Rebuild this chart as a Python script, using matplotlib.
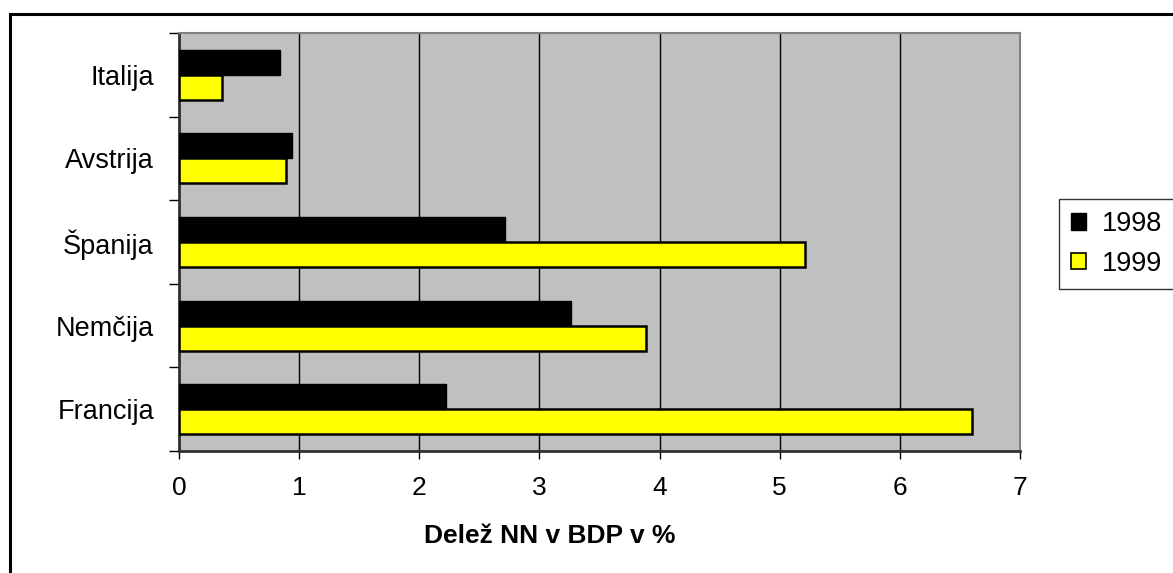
import matplotlib.pyplot as plt
from matplotlib.patches import Rectangle, Patch

plt.rcParams['font.family'] = ['Liberation Sans', 'DejaVu Sans']

drzave = ["Francija", "Nemčija", "Španija", "Avstrija", "Italija"]
delez_1998 = [2.22, 3.26, 2.71, 0.94, 0.84]
delez_1999 = [6.60, 3.89, 5.21, 0.89, 0.36]

fig = plt.figure(figsize=(11.73, 5.73), dpi=100)
ax = fig.add_axes([179 / 1173, 1 - 451 / 573, 841 / 1173, 418 / 573])

# okvir okoli celega grafa (desni in spodnji rob sta izven slike)
fig.patches.append(Rectangle((10 / 1173, -0.05), 1.2, 1 - 13.5 / 573 + 0.05,
                             transform=fig.transFigure, fill=False,
                             edgecolor="black", linewidth=2.2, zorder=10))

y = list(range(len(drzave)))
h = 0.3
ax.barh([v + h / 2 for v in y], delez_1998, height=h, color="black",
        edgecolor="black", linewidth=1, zorder=3, label="1998")
ax.barh([v - h / 2 for v in y], delez_1999, height=h, color="#ffff00",
        edgecolor="black", linewidth=1.8, zorder=3, label="1999")

ax.set_facecolor("#c0c0c0")
ax.set_xlim(0, 7)
ax.set_ylim(-0.5, len(drzave) - 0.5)
ax.set_xticks(range(8))
ax.set_yticks(y)
ax.set_yticklabels(drzave)
ax.set_yticks([v - 0.5 for v in range(len(drzave) + 1)], minor=True)
ax.grid(axis="x", color="black", linewidth=1, zorder=1)

ax.tick_params(axis="y", which="major", length=0, pad=18, labelsize=19.5)
ax.tick_params(axis="y", which="minor", length=7, width=1, direction="out")
ax.tick_params(axis="x", length=6, width=1, pad=12, labelsize=19)

for side in ["top", "right"]:
    ax.spines[side].set_color("#808080")
    ax.spines[side].set_linewidth(1.5)
for side in ["left", "bottom"]:
    ax.spines[side].set_color("#303030")
    ax.spines[side].set_linewidth(2)

fig.text(550 / 1173, 1 - 536 / 573, "Delež NN v BDP v %", ha="center",
         va="center", fontsize=19, fontweight="bold")

handles = [Patch(facecolor="black", edgecolor="black", label="1998"),
           Patch(facecolor="#ffff00", edgecolor="black", linewidth=1.2,
                 label="1999")]
leg = fig.legend(handles=handles, loc="upper left",
                 bbox_to_anchor=(1059 / 1173, 1 - 199 / 573),
                 fontsize=19.5, frameon=True, fancybox=False, shadow=False,
                 handlelength=0.55, handleheight=0.55, handletextpad=0.6,
                 borderpad=0.45, labelspacing=0.5, borderaxespad=0)
leg.get_frame().set_edgecolor("black")
leg.get_frame().set_linewidth(1)

fig.savefig("out.png", dpi=100)
